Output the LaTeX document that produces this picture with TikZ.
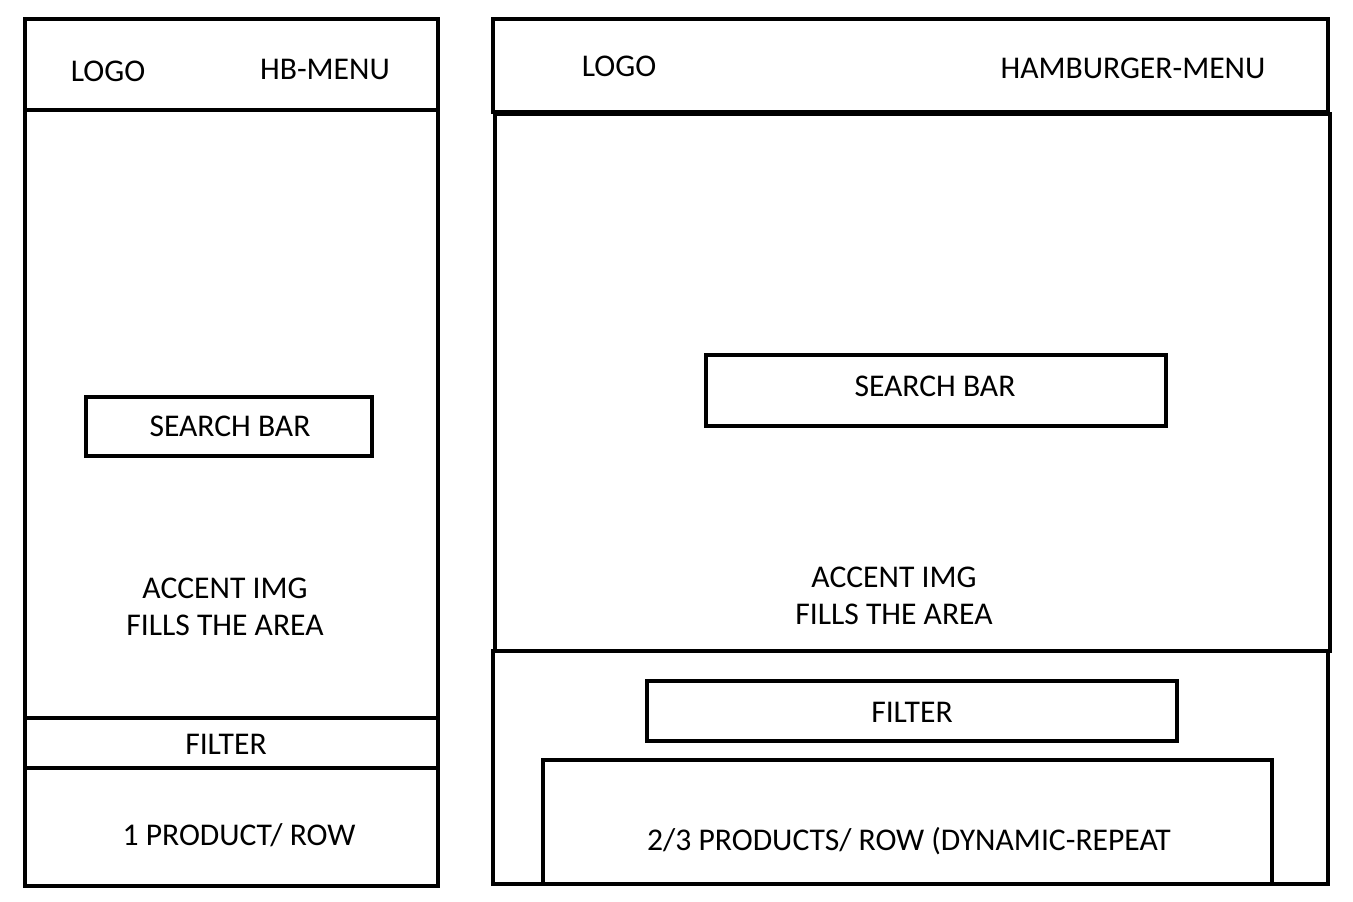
\documentclass[tikz,border=0pt]{standalone}
\usepackage{fontspec}
\setmainfont{Carlito}
\tikzset{
  frame/.style={draw, line width=2.6pt, inner sep=0pt},
  lbl/.style={font=\fontsize{18}{22}\selectfont, inner sep=0pt, align=center}
}
\begin{document}
\begin{tikzpicture}[x=0.02cm, y=-0.02cm]
                      \useasboundingbox (0,0) rectangle (1353,902);
                      % small screen
                      \node[frame, minimum width=8.26cm, minimum height=1.82cm] (mhead) at (231.5,64.5) {};
                      \node[frame, minimum width=8.26cm, minimum height=12.16cm] (mhero) at (231.5,414) {};
                      \node[frame, minimum width=8.26cm, minimum height=1.0cm] (mfilter) at (231.5,743) {};
                      \node[frame, minimum width=8.26cm, minimum height=2.36cm] (mprod) at (231.5,827) {};
                      \node[frame, minimum width=5.72cm, minimum height=1.18cm] (msearch) at (229,426.5) {};
                      \node[lbl] (mlogo) at (108,71) {LOGO};
                      \node[lbl] (mmenu) at (325,69) {HB-MENU};
                      \node[lbl] (msearchtxt) at (230,426) {SEARCH BAR};
                      \node[lbl] (mimg) at (225,606.5) {ACCENT IMG\\[-1pt]FILLS THE AREA};
                      \node[lbl] (mfiltertxt) at (226,744) {FILTER};
                      \node[lbl] (mrow) at (239,835) {1 PRODUCT/ ROW};

                      % large screen
                      \node[frame, minimum width=16.7cm, minimum height=1.86cm] (dhead) at (910.5,65.5) {};
                      \node[frame, minimum width=16.7cm, minimum height=10.74cm] (dhero) at (912.5,382.5) {};
                      \node[frame, minimum width=16.7cm, minimum height=4.66cm] (dlower) at (910.5,767.5) {};
                      \node[frame, minimum width=9.2cm, minimum height=1.42cm] (dsearch) at (936,390.5) {};
                      \node[frame, minimum width=10.6cm, minimum height=1.2cm] (dfilter) at (912,711) {};
                      \node[frame, minimum width=14.58cm, minimum height=2.48cm] (dprod) at (907.5,822) {};
                      \node[lbl] (dlogo) at (619,66) {LOGO};
                      \node[lbl] (dmenu) at (1133,68) {HAMBURGER-MENU};
                      \node[lbl] (dsearchtxt) at (935,386) {SEARCH BAR};
                      \node[lbl] (dimg) at (894,595.5) {ACCENT IMG\\[-1pt]FILLS THE AREA};
                      \node[lbl] (dfiltertxt) at (912,712) {FILTER};
                      \node[lbl] (drow) at (909,841) {2/3 PRODUCTS/ ROW (DYNAMIC-REPEAT};
\end{tikzpicture}
\end{document}
